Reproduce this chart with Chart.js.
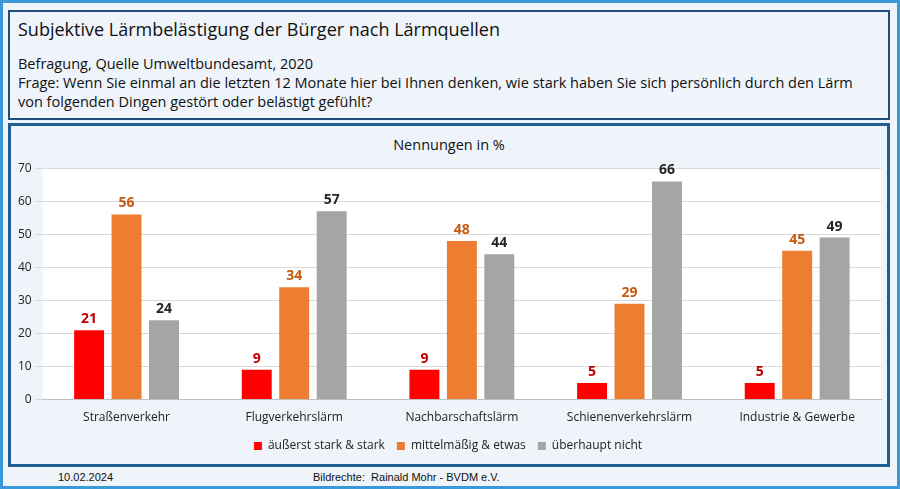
<!DOCTYPE html>
<html><head><meta charset="utf-8">
<script src="https://cdn.jsdelivr.net/npm/chart.js@4"></script>
<style>
body{margin:0;width:900px;height:489px;background:#fff;font-family:"Open Sans",sans-serif;position:relative;overflow:hidden}
#frame{position:absolute;left:0;top:0;width:894px;height:483px;border:3px solid #3a9ad9;background:#eef4fa}
#head{position:absolute;left:8px;top:10px;width:878px;height:106px;border:2px solid #1f4e79;background:#eef4fa}
#head .t{position:absolute;left:8px;top:5px;font-size:18px;color:#111}
#head .s{position:absolute;left:8px;top:42px;font-size:14.5px;color:#111;line-height:19px;width:860px}
#box{position:absolute;left:8px;top:123px;width:876px;height:338px;border:3px solid #1f5f8f;background:#eef4fa}
#box .t{position:absolute;left:0;width:100%;text-align:center;top:9px;font-size:14.5px;color:#111}
#c{position:absolute;left:0;top:32px}
.f{position:absolute;top:471px;font-size:11px;color:#111;font-family:Arial,sans-serif}
</style></head><body>
<div id="frame"></div>
<div id="head"><div class="t">Subjektive Lärmbelästigung der Bürger nach Lärmquellen</div>
<div class="s">Befragung, Quelle Umweltbundesamt, 2020<br>Frage: Wenn Sie einmal an die letzten 12 Monate hier bei Ihnen denken, wie stark haben Sie sich persönlich durch den Lärm von folgenden Dingen gestört oder belästigt gefühlt?</div></div>
<div id="box"><div class="t">Nennungen in %</div><canvas id="c" width="876" height="304"></canvas></div>
<div class="f" style="left:58px">10.02.2024</div>
<div class="f" style="left:313px">Bildrechte:&nbsp; Rainald Mohr - BVDM e.V.</div>
<script>
const categories = ['Straßenverkehr', 'Flugverkehrslärm', 'Nachbarschaftslärm', 'Schienenverkehrslärm', 'Industrie & Gewerbe'];
const starkValues = [21, 9, 9, 5, 5];
const mittelValues = [56, 34, 48, 29, 45];
const garNichtValues = [24, 57, 44, 66, 49];
const seriesNames = ['äußerst stark & stark', 'mittelmäßig & etwas', 'überhaupt nicht'];
const colors = ['#ff0000', '#ed7d31', '#a5a5a5'];
const labelColors = ['#c00000', '#c55a11', '#262626'];

const bgPlot = {
  id: 'bgPlot',
  beforeDraw(chart) {
    const a = chart.chartArea, c = chart.ctx;
    c.save(); c.fillStyle = '#fff'; c.fillRect(a.left, a.top, a.right - a.left, a.bottom - a.top); c.restore();
  }
};
const valueLabels = {
  id: 'valueLabels',
  afterDatasetsDraw(chart) {
    const c = chart.ctx;
    c.save();
    c.font = 'bold 14px "Open Sans"';
    c.textAlign = 'center';
    c.textBaseline = 'bottom';
    chart.data.datasets.forEach((ds, i) => {
      chart.getDatasetMeta(i).data.forEach((bar, j) => {
        c.fillStyle = labelColors[i];
        c.fillText(ds.data[j], bar.x, bar.y - 4);
      });
    });
    c.restore();
  }
};

new Chart(document.getElementById('c'), {
  type: 'bar',
  data: {
    labels: categories,
    datasets: [starkValues, mittelValues, garNichtValues].map((d, i) => ({
      label: seriesNames[i], data: d, backgroundColor: colors[i],
      categoryPercentage: 0.67, barPercentage: 0.8
    }))
  },
  options: {
    responsive: false, animation: false,
    layout: { padding: { left: 4, right: 6, top: 0, bottom: 0 } },
    scales: {
      y: { min: 0, max: 70, ticks: { stepSize: 10, color: '#222', font: { size: 12, family: 'Open Sans' } },
           grid: { color: '#d9d9d9' }, border: { display: false } },
      x: { ticks: { color: '#222', font: { size: 12, family: 'Open Sans' } },
           grid: { display: false }, border: { color: '#bfbfbf' } }
    },
    plugins: {
      legend: { position: 'bottom', labels: { boxWidth: 8, boxHeight: 8, color: '#222', font: { size: 12, family: 'Open Sans' }, padding: 12 } },
      tooltip: { enabled: false }
    }
  },
  plugins: [bgPlot, valueLabels]
});
</script>
</body></html>
